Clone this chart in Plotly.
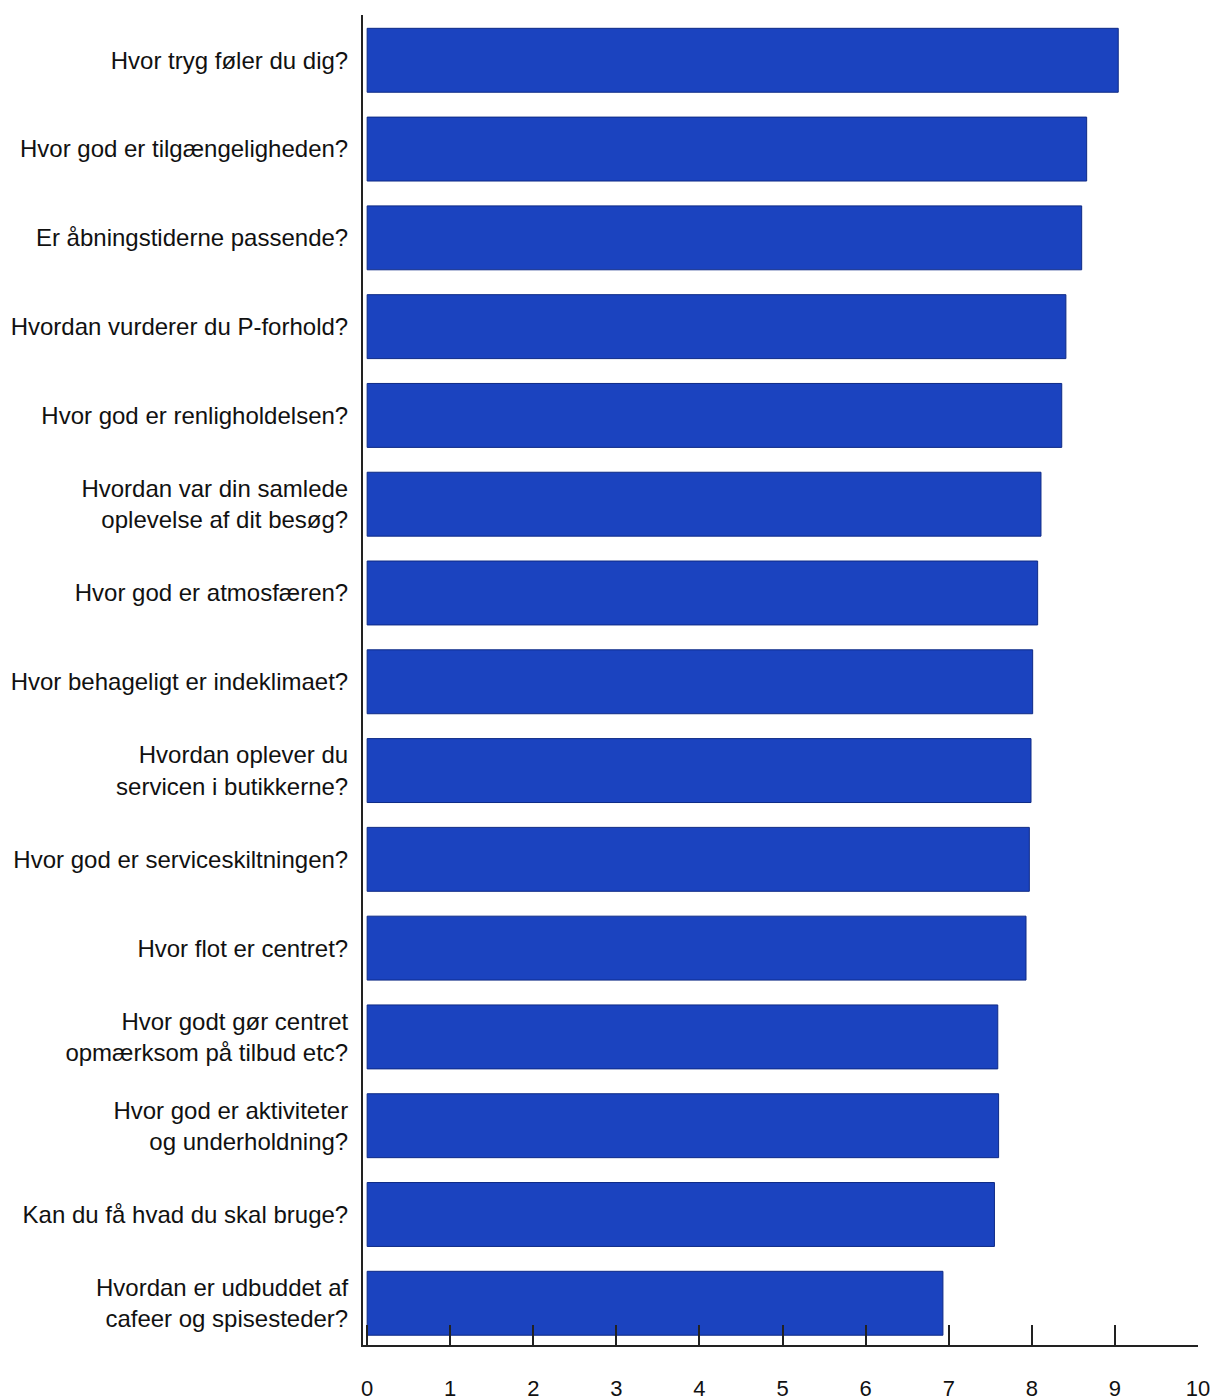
import plotly.graph_objects as go

categories = [
    "Hvor tryg føler du dig?",
    "Hvor god er tilgængeligheden?",
    "Er åbningstiderne passende?",
    "Hvordan vurderer du P-forhold?",
    "Hvor god er renligholdelsen?",
    "Hvordan var din samlede<br>oplevelse af dit besøg?",
    "Hvor god er atmosfæren?",
    "Hvor behageligt er indeklimaet?",
    "Hvordan oplever du<br>servicen i butikkerne?",
    "Hvor god er serviceskiltningen?",
    "Hvor flot er centret?",
    "Hvor godt gør centret<br>opmærksom på tilbud etc?",
    "Hvor god er aktiviteter<br>og underholdning?",
    "Kan du få hvad du skal bruge?",
    "Hvordan er udbuddet af<br>cafeer og spisesteder?",
]
values = [9.04, 8.66, 8.60, 8.41, 8.36, 8.11, 8.07, 8.01, 7.99, 7.97, 7.93, 7.59, 7.60, 7.55, 6.93]
x_ticks = list(range(0, 11))

fig = go.Figure(go.Bar(
    x=values,
    y=categories,
    orientation="h",
    width=0.72,
    marker=dict(color="#1b43bf", line=dict(color="#0e2a86", width=1)),
))

fig.update_layout(
    width=1211,
    height=1392,
    margin=dict(l=355, r=21, t=7, b=55),
    paper_bgcolor="white",
    plot_bgcolor="white",
    font=dict(family="Liberation Sans, Arial, sans-serif", size=24, color="#111"),
    showlegend=False,
)
fig.update_xaxes(
    range=[-0.05, 10.0],
    tickvals=x_ticks,
    ticktext=[str(t) for t in x_ticks],
    ticks="inside",
    ticklen=20,
    tickwidth=2,
    tickcolor="#222",
    showline=True,
    linecolor="#222",
    linewidth=2,
    showgrid=False,
    zeroline=False,
    ticklabelstandoff=23,
    tickfont=dict(size=22),
    automargin=False,
)
fig.update_yaxes(
    categoryorder="array",
    categoryarray=categories,
    range=[14.47, -0.51],
    showline=True,
    linecolor="#222",
    linewidth=2,
    showgrid=False,
    ticks="",
    ticklabelstandoff=8,
    automargin=False,
)

fig.write_html("out.html")
